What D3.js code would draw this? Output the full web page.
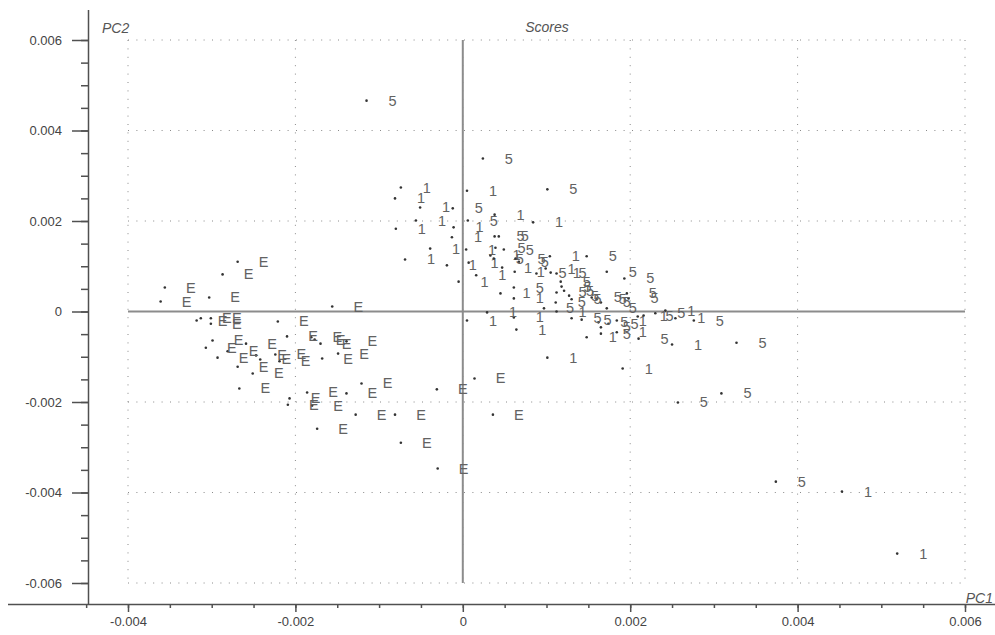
<!DOCTYPE html>
<html>
<head>
<meta charset="utf-8">
<script src="https://cdn.jsdelivr.net/npm/d3@7"></script>
<style>
  body { margin: 0; background: #fff; }
  svg { font-family: "Liberation Sans", Arial, sans-serif; }
</style>
</head>
<body>
<svg id="chart" width="995" height="635"></svg>
<script>
// sample scores, one array per group
let scoresE = [
	[-0.00269, 0.00110], [-0.00287, 0.00082], [-0.00356, 0.00053], [-0.00361, 0.00022],
	[-0.00303, 0.00031], [-0.00156, 0.00011], [-0.00318, -0.00020], [-0.00313, -0.00015],
	[-0.00301, -0.00015], [-0.00301, -0.00027], [-0.00221, -0.00022], [-0.00299, -0.00064],
	[-0.00307, -0.00080], [-0.00293, -0.00102], [-0.00259, -0.00071], [-0.00281, -0.00088],
	[-0.00269, -0.00122], [-0.00251, -0.00137], [-0.00247, -0.00097], [-0.00242, -0.00106],
	[-0.00224, -0.00095], [-0.00219, -0.00110], [-0.00210, -0.00055], [-0.00181, -0.00057],
	[-0.00177, -0.00062], [-0.00170, -0.00071], [-0.00139, -0.00066], [-0.00149, -0.00093],
	[-0.00168, -0.00104], [-0.00267, -0.00170], [-0.00186, -0.00179], [-0.00207, -0.00192],
	[-0.00209, -0.00206], [-0.00139, -0.00181], [-0.00121, -0.00159], [-0.00180, -0.00208],
	[-0.00128, -0.00228], [-0.00081, -0.00228], [-0.00174, -0.00259], [-0.00074, -0.00290],
	[-0.00031, -0.00172], [0.00014, -0.00148], [0.00036, -0.00228], [-0.00030, -0.00347]
];

let scores1 = [
	[-0.00074, 0.00274], [-0.00081, 0.00250], [0.00005, 0.00267], [-0.00051, 0.00230],
	[-0.00056, 0.00201], [0.00038, 0.00214], [0.00084, 0.00197], [-0.00080, 0.00183],
	[-0.00011, 0.00186], [-0.00013, 0.00164], [-0.00039, 0.00139], [-0.00069, 0.00115],
	[-0.00019, 0.00102], [0.00004, 0.00137], [0.00007, 0.00108], [0.00033, 0.00124],
	[0.00047, 0.00097], [0.00062, 0.00088], [0.00104, 0.00122], [0.00099, 0.00095],
	[0.00105, 0.00086], [-0.00005, 0.00066], [0.00016, 0.00080], [0.00045, 0.00040],
	[0.00061, 0.00029], [0.00112, 0.00000], [0.00005, -0.00020], [0.00029, -0.00002],
	[0.00061, -0.00013], [0.00148, -0.00057], [0.00184, -0.00020], [0.00184, -0.00046],
	[0.00209, -0.00011], [0.00242, 0.00002], [0.00254, -0.00015], [0.00250, -0.00073],
	[0.00064, -0.00040], [0.00101, -0.00102], [0.00191, -0.00126], [0.00453, -0.00398],
	[0.00519, -0.00535]
];

let scores5 = [
	[-0.00115, 0.00466], [0.00024, 0.00338], [0.00101, 0.00270], [-0.00012, 0.00228],
	[0.00006, 0.00201], [0.00038, 0.00166], [0.00043, 0.00166], [0.00039, 0.00141],
	[0.00049, 0.00137], [0.00037, 0.00117], [0.00063, 0.00117], [0.00067, 0.00110],
	[0.00088, 0.00084], [0.00148, 0.00122], [0.00112, 0.00084], [0.00117, 0.00066],
	[0.00118, 0.00055], [0.00172, 0.00088], [0.00193, 0.00073], [0.00061, 0.00053],
	[0.00112, 0.00042], [0.00121, 0.00046], [0.00127, 0.00035], [0.00130, 0.00027],
	[0.00154, 0.00031], [0.00160, 0.00027], [0.00165, 0.00020], [0.00172, 0.00007],
	[0.00196, 0.00040], [0.00198, 0.00029], [0.00097, 0.00007], [0.00111, 0.00020],
	[0.00130, -0.00015], [0.00142, -0.00018], [0.00162, -0.00024], [0.00165, -0.00035],
	[0.00165, -0.00049], [0.00174, -0.00027], [0.00216, -0.00009], [0.00230, -0.00004],
	[0.00276, -0.00020], [0.00210, -0.00060], [0.00327, -0.00069], [0.00257, -0.00201],
	[0.00309, -0.00181], [0.00374, -0.00376]
];

let xTicks = [-0.004, -0.002, 0, 0.002, 0.004, 0.006];
let yTicks = [-0.006, -0.004, -0.002, 0, 0.002, 0.004, 0.006];

let svg = d3.select("#chart");

let x = d3.scaleLinear().domain([-0.004, 0.006]).range([128, 965]);
let y = d3.scaleLinear().domain([-0.006, 0.006]).range([583, 40]);

let fmt = function(d) { return d == 0 ? "0" : d3.format(".3f")(d).replace("\u2212", "-"); };

// dotted grid
svg.append("g")
	.selectAll("line")
	.data(yTicks)
	.enter().append("line")
	.attr("x1", x(-0.004)).attr("x2", x(0.006))
	.attr("y1", function(d) { return y(d); })
	.attr("y2", function(d) { return y(d); })
	.attr("stroke", "#8a8a8a")
	.attr("stroke-width", 1)
	.attr("stroke-dasharray", "1,7.4");

svg.append("g")
	.selectAll("line")
	.data(xTicks)
	.enter().append("line")
	.attr("y1", y(0.006)).attr("y2", y(-0.006))
	.attr("x1", function(d) { return x(d); })
	.attr("x2", function(d) { return x(d); })
	.attr("stroke", "#8a8a8a")
	.attr("stroke-width", 1)
	.attr("stroke-dasharray", "1,7.4");

// zero lines
svg.append("line")
	.attr("x1", x(-0.004)).attr("x2", x(0.006))
	.attr("y1", y(0)).attr("y2", y(0))
	.attr("stroke", "#8c8c8c").attr("stroke-width", 2);
svg.append("line")
	.attr("x1", x(0)).attr("x2", x(0))
	.attr("y1", y(0.006)).attr("y2", y(-0.006))
	.attr("stroke", "#8c8c8c").attr("stroke-width", 2);

// axes
let xMinor = d3.range(-0.0045, 0.0066, 0.0005);
let yMinor = d3.range(-0.0065, 0.0066, 0.0005);

let xAxisG = svg.append("g")
	.attr("transform", "translate(0,604)")
	.call(d3.axisBottom(x).tickValues(xTicks).tickSize(8).tickFormat(fmt));
svg.append("g")
	.attr("transform", "translate(0,604)")
	.call(d3.axisBottom(x).tickValues(xMinor).tickSize(4).tickFormat(""))
	.select(".domain").remove();

let yAxisG = svg.append("g")
	.attr("transform", "translate(88,0)")
	.call(d3.axisLeft(y).tickValues(yTicks).tickSize(16).tickFormat(fmt));
svg.append("g")
	.attr("transform", "translate(88,0)")
	.call(d3.axisLeft(y).tickValues(yMinor.filter(function(d) { return d > -0.0064 && d < 0.0064; })).tickSize(7).tickFormat(""))
	.select(".domain").remove();

xAxisG.select(".domain").attr("d", "M8,0.5H995");
yAxisG.select(".domain").attr("d", "M0.5,10V604");

svg.selectAll(".tick line, .domain")
	.attr("stroke", "#505050")
	.attr("stroke-width", 1.5);
svg.selectAll(".tick text")
	.attr("fill", "#444")
	.style("font-size", "13px");
xAxisG.selectAll(".tick text").attr("y", 13);
yAxisG.selectAll(".tick text").attr("x", -26);

// points and labels
function drawGroup(data, label) {
	let g = svg.append("g");
	g.selectAll("circle")
		.data(data)
		.enter().append("circle")
		.attr("cx", function(d) { return x(d[0]); })
		.attr("cy", function(d) { return y(d[1]); })
		.attr("r", 1.3)
		.attr("fill", "#333");
	g.selectAll("text")
		.data(data)
		.enter().append("text")
		.attr("x", function(d) { return x(d[0]) + 26; })
		.attr("y", function(d) { return y(d[1]) + 5; })
		.attr("text-anchor", "middle")
		.attr("fill", "#626262")
		.style("font-size", "14.5px")
		.text(label);
}
drawGroup(scoresE, "E");
drawGroup(scores1, "1");
drawGroup(scores5, "5");

// titles
svg.append("text")
	.attr("x", 547).attr("y", 32)
	.attr("text-anchor", "middle")
	.attr("fill", "#555")
	.style("font-size", "14px")
	.style("font-style", "italic")
	.text("Scores");
svg.append("text")
	.attr("x", 102).attr("y", 33)
	.attr("fill", "#555")
	.style("font-size", "14px")
	.style("font-style", "italic")
	.text("PC2");
svg.append("text")
	.attr("x", 993).attr("y", 603)
	.attr("text-anchor", "end")
	.attr("fill", "#555")
	.style("font-size", "14px")
	.style("font-style", "italic")
	.text("PC1");
</script>
</body>
</html>
